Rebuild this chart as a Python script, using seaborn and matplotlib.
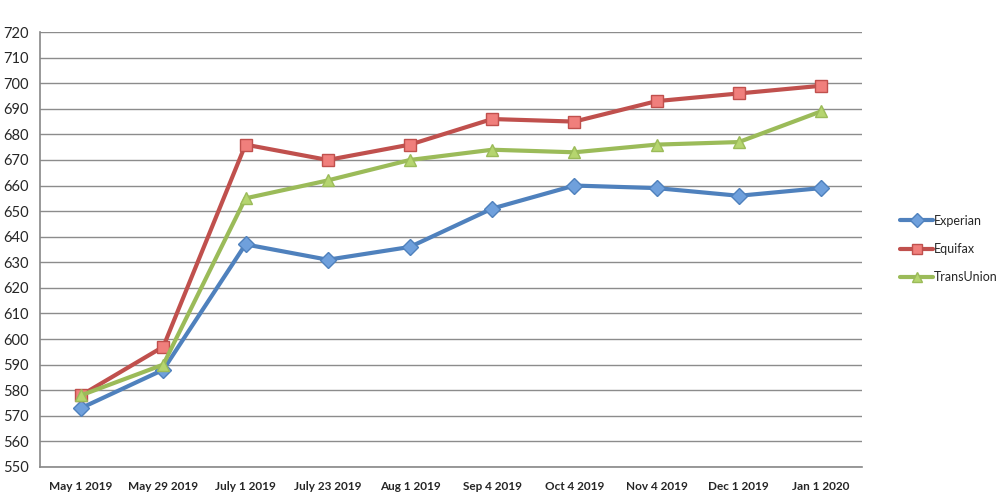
import numpy as np
import pandas as pd
import seaborn as sns
import matplotlib.pyplot as plt
from matplotlib.ticker import FixedLocator, MultipleLocator

dates = ['May 1 2019', 'May 29 2019', 'July 1 2019', 'July 23 2019', 'Aug 1 2019',
         'Sep 4 2019', 'Oct 4 2019', 'Nov 4 2019', 'Dec 1 2019', 'Jan 1 2020']
experian = [573, 588, 637, 631, 636, 651, 660, 659, 656, 659]
equifax = [578, 597, 676, 670, 676, 686, 685, 693, 696, 699]
transunion = [578, 590, 655, 662, 670, 674, 673, 676, 677, 689]

bureaus = ['Experian', 'Equifax', 'TransUnion']
line_colors = ['#4F81BD', '#C0504D', '#9BBB59']
face_colors = ['#6FA0DC', '#F07F7C', '#B5D56F']
marker_shapes = ['D', 's', '^']

rows = []
for name, vals in zip(bureaus, [experian, equifax, transunion]):
    for i, v in enumerate(vals):
        rows.append({'pos': i, 'date': dates[i], 'score': v, 'bureau': name})
df = pd.DataFrame(rows)

sns.set_style('white')
plt.rcParams['font.family'] = ['Lato', 'DejaVu Sans']

fig = plt.figure(figsize=(9.99, 5.01), dpi=100)
ax = fig.add_axes([0.040, 0.068, 0.823, 0.868])

sns.lineplot(data=df, x='pos', y='score', hue='bureau', style='bureau',
             palette=dict(zip(bureaus, line_colors)),
             markers=dict(zip(bureaus, marker_shapes)),
             dashes=False, linewidth=3.0, markersize=8, ax=ax, legend=False, zorder=3)

# marker fills lighter than the line, like the original
for line, fc, lc in zip(ax.lines, face_colors, line_colors):
    line.set_markerfacecolor(fc)
    line.set_markeredgecolor(lc)
    line.set_markeredgewidth(1.0)
    line.set_solid_joinstyle('round')
    line.set_solid_capstyle('round')

ax.set_xlim(-0.5, len(dates) - 0.5)
ax.set_ylim(550, 720)
ax.yaxis.set_major_locator(MultipleLocator(10))
ax.set_xticks(range(len(dates)))
ax.set_xticklabels(dates, fontsize=8.5, fontweight='bold')
ax.xaxis.set_minor_locator(FixedLocator(np.arange(-0.5, len(dates), 1)))
ax.tick_params(axis='x', which='major', length=0, pad=10)
ax.tick_params(axis='x', which='minor', length=5, color='#888888', width=1, direction='out')
ax.tick_params(axis='y', length=5, color='#888888', width=1, direction='out', labelsize=10.5, pad=3)

ax.grid(axis='y', color='#8C8C8C', linewidth=1)
ax.set_axisbelow(True)
for side in ['top', 'right']:
    ax.spines[side].set_visible(False)
for side in ['left', 'bottom']:
    ax.spines[side].set_color('#888888')
    ax.spines[side].set_linewidth(1.2)
ax.set_xlabel('')
ax.set_ylabel('')

handles = [plt.Line2D([], [], color=lc, marker=m, markerfacecolor=fc, markeredgecolor=lc,
                      linewidth=3.0, markersize=7)
           for lc, fc, m in zip(line_colors, face_colors, marker_shapes)]
fig.legend(handles, bureaus, loc='center left', bbox_to_anchor=(0.89, 0.503),
           frameon=False, fontsize=9, handlelength=2.6, handletextpad=0.1,
           labelspacing=1.3)

fig.savefig('out.png', dpi=100, facecolor='white')
